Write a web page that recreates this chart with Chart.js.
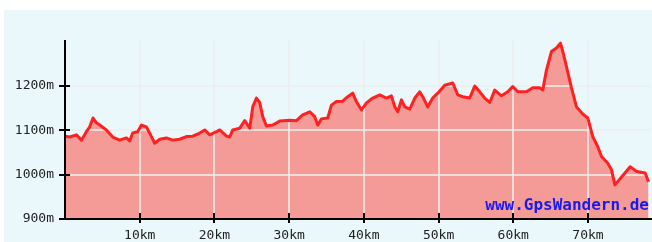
<!DOCTYPE html>
<html><head><meta charset="utf-8">
<script src="https://cdn.jsdelivr.net/npm/chart.js@4/dist/chart.umd.min.js"></script>
<style>html,body{margin:0;padding:0;background:#fff;overflow:hidden}#wrap{width:652px;height:242px;position:relative}</style>
</head><body><div id="wrap"><canvas id="c" width="652" height="242"></canvas></div>
<script>
const distanceKm = [0.0,0.63,1.53,2.2,2.86,3.31,3.75,4.2,4.65,5.54,6.39,7.32,8.22,8.66,9.06,9.73,10.23,10.9,11.57,12.01,12.68,13.57,14.42,15.35,16.25,17.1,18.03,18.7,19.37,20.27,20.71,21.61,22.05,22.45,23.39,24.06,24.73,25.13,25.62,26.06,26.47,26.96,27.8,28.74,30.08,30.98,31.82,32.76,33.42,33.83,34.32,35.17,35.66,36.33,37.17,37.84,38.51,39.0,39.68,40.35,41.19,42.13,43.02,43.69,44.14,44.54,45.03,45.48,46.15,46.82,47.48,47.88,48.55,49.22,49.89,50.83,51.9,52.57,53.24,54.17,54.84,55.51,56.18,56.85,57.52,58.42,59.26,59.93,60.6,61.77,62.61,63.55,63.95,64.44,65.11,65.78,66.32,66.63,67.12,67.79,68.46,69.3,69.97,70.64,71.31,71.81,72.65,73.15,73.6,74.5,75.64,76.54,77.65,78.1];
const elevationM = [1087,1085,1090,1078,1097,1108,1128,1117,1112,1101,1085,1078,1083,1076,1094,1097,1112,1108,1086,1071,1080,1083,1078,1080,1086,1087,1094,1101,1090,1097,1101,1087,1085,1101,1105,1122,1105,1153,1173,1163,1131,1110,1112,1121,1123,1122,1135,1142,1131,1112,1126,1128,1157,1165,1166,1176,1184,1165,1146,1162,1173,1180,1173,1178,1153,1142,1169,1153,1148,1173,1187,1176,1153,1173,1184,1202,1207,1180,1176,1173,1200,1187,1173,1163,1191,1178,1187,1199,1187,1187,1196,1196,1191,1236,1278,1286,1297,1278,1244,1196,1153,1137,1128,1086,1063,1041,1026,1011,977,995,1018,1007,1004,984];
const xTickValues = [10,20,30,40,50,60,70];
const yTickValues = [900,1000,1100,1200];
const xUnit = 'km', yUnit = 'm';
const xMin = 0, xMax = 78.3, yMin = 900, yMax = 1304;
const watermark = 'www.GpsWandern.de';

const points = distanceKm.map((d,i)=>({x:d,y:elevationM[i]}));

const decor = {
  id:'decor',
  beforeDraw(chart){
    const ctx = chart.ctx;
    ctx.save();
    ctx.fillStyle = '#eaf8fc';
    ctx.fillRect(4,10,648,232);
    ctx.restore();
  },
  beforeDatasetsDraw(chart){
    const {ctx, chartArea:a, scales:{x,y}} = chart;
    ctx.save();
    ctx.strokeStyle = 'rgba(238,238,238,0.8)';
    ctx.lineWidth = 2;
    xTickValues.forEach(v=>{const px=Math.round(x.getPixelForValue(v)); ctx.beginPath(); ctx.moveTo(px,a.top); ctx.lineTo(px,a.bottom); ctx.stroke();});
    yTickValues.forEach(v=>{if(v===yMin)return; const py=Math.round(y.getPixelForValue(v)); ctx.beginPath(); ctx.moveTo(a.left,py); ctx.lineTo(a.right,py); ctx.stroke();});
    ctx.restore();
  },
  afterDatasetsDraw(chart){
    const {ctx, chartArea:a, scales:{x,y}} = chart;
    ctx.save();
    ctx.strokeStyle = '#000';
    ctx.lineWidth = 2;
    const x0 = Math.round(x.getPixelForValue(xMin)), y0 = Math.round(y.getPixelForValue(yMin));
    ctx.beginPath(); ctx.moveTo(x0, a.top); ctx.lineTo(x0, y0+1); ctx.stroke();
    ctx.beginPath(); ctx.moveTo(x0-1, y0); ctx.lineTo(652, y0); ctx.stroke();
    yTickValues.forEach(v=>{const py=Math.round(y.getPixelForValue(v)); ctx.beginPath(); ctx.moveTo(x0-6,py); ctx.lineTo(x0+5,py); ctx.stroke();});
    xTickValues.forEach(v=>{const px=Math.round(x.getPixelForValue(v)); ctx.beginPath(); ctx.moveTo(px,y0-6); ctx.lineTo(px,y0+4); ctx.stroke();});
    ctx.fillStyle = '#1a1aee';
    ctx.font = 'bold 16px "DejaVu Sans Mono"';
    ctx.textAlign = 'right';
    ctx.textBaseline = 'alphabetic';
    ctx.fillText(watermark, 649, 210);
    ctx.restore();
  }
};

new Chart(document.getElementById('c'), {
  type:'line',
  data:{datasets:[{data:points, borderColor:'#ff2020', borderWidth:3, backgroundColor:'#f59b97', fill:'start', pointRadius:0, tension:0, borderJoinStyle:'round'}]},
  options:{
    responsive:false, animation:false, devicePixelRatio:1,
    layout:{padding:{top:40,right:2,left:0,bottom:0}},
    plugins:{legend:{display:false}, tooltip:{enabled:false}, filler:{drawTime:'beforeDatasetsDraw'}},
    scales:{
      x:{type:'linear', min:xMin, max:xMax,
        afterBuildTicks:s=>{s.ticks = xTickValues.map(v=>({value:v}));},
        afterFit:s=>{s.height = 23;},
        grid:{display:false, drawTicks:false}, border:{display:false},
        ticks:{autoSkip:false, maxRotation:0, padding:9, color:'#222', font:{family:'"DejaVu Sans Mono"', size:13}, callback:v=>v+xUnit}},
      y:{type:'linear', min:yMin, max:yMax,
        afterBuildTicks:s=>{s.ticks = yTickValues.map(v=>({value:v}));},
        afterFit:s=>{s.width = 65;},
        grid:{display:false, drawTicks:false}, border:{display:false},
        ticks:{autoSkip:false, padding:11, color:'#222', font:{family:'"DejaVu Sans Mono"', size:13}, callback:v=>v+yUnit}}
    }
  },
  plugins:[decor]
});
</script></body></html>
